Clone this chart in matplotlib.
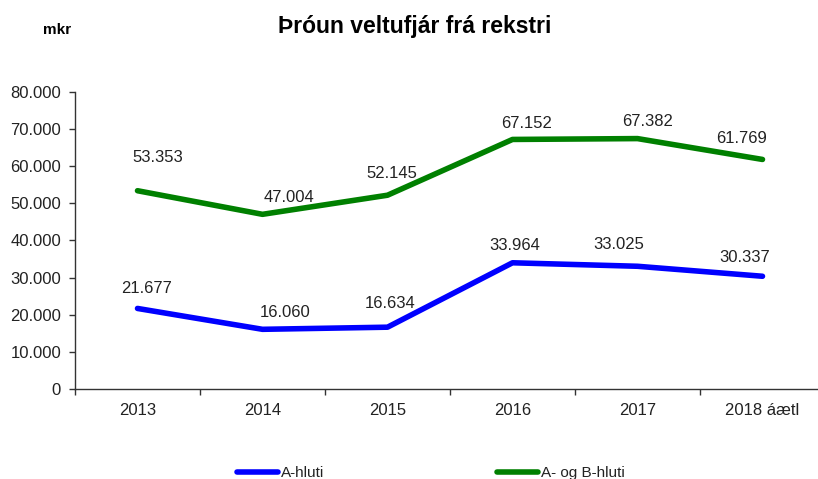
import matplotlib
matplotlib.use("Agg")
import matplotlib.pyplot as plt
from matplotlib.ticker import FixedLocator, FuncFormatter, NullFormatter

plt.rcParams['font.family'] = ['Liberation Sans', 'DejaVu Sans']

years = ["2013", "2014", "2015", "2016", "2017", "2018 áætl"]
a_hluti = [21677, 16060, 16634, 33964, 33025, 30337]
ab_hluti = [53353, 47004, 52145, 67152, 67382, 61769]

# label nudges in pixels (dx, dy) - labels were hand placed in the original
nudge_a = [(9, 20), (23, 17), (3, 24), (2, 17), (-19, 22), (-18, 19)]
nudge_ab = [(20, 33), (26, 17), (4, 22), (14, 16), (10, 17), (-21, 21)]


def fmt_is(v, pos=None):
    return "{:,.0f}".format(v).replace(",", ".")


fig = plt.figure(figsize=(8.18, 4.79), dpi=100)
ax = fig.add_axes([75/818., 1-389/479., 750/818., (389-91.7)/479.])

x = list(range(len(years)))
la, = ax.plot(x, a_hluti, color="#0000FF", lw=4, solid_capstyle="round", label="A-hluti")
lab, = ax.plot(x, ab_hluti, color="#008000", lw=4, solid_capstyle="round", label="A- og B-hluti")

for xi, v, (dx, dy) in zip(x, a_hluti, nudge_a):
    ax.annotate(fmt_is(v), (xi, v), xytext=(dx, dy), textcoords="offset pixels",
                ha="center", va="center", fontsize=12, color="#222222")
for xi, v, (dx, dy) in zip(x, ab_hluti, nudge_ab):
    ax.annotate(fmt_is(v), (xi, v), xytext=(dx, dy), textcoords="offset pixels",
                ha="center", va="center", fontsize=12, color="#222222")

ax.set_xlim(-0.5, len(years)-0.5)
ax.set_ylim(0, 80000)
ax.set_yticks(range(0, 80001, 10000))
ax.yaxis.set_major_formatter(FuncFormatter(fmt_is))

# ticks sit between categories, labels in the middle
ax.xaxis.set_major_locator(FixedLocator([i-0.5 for i in range(len(years)+1)]))
ax.xaxis.set_major_formatter(NullFormatter())
ax.xaxis.set_minor_locator(FixedLocator(x))
ax.set_xticklabels(years, minor=True)
ax.tick_params(axis="x", which="minor", length=0, pad=10, labelsize=12, labelcolor="#222222")
ax.tick_params(axis="x", which="major", length=4, width=1, color="#333333")
ax.tick_params(axis="y", length=4, width=1, pad=6, labelsize=12, labelcolor="#222222", color="#333333")

for s in ["top", "right"]:
    ax.spines[s].set_visible(False)
for s in ["left", "bottom"]:
    ax.spines[s].set_color("#333333")
    ax.spines[s].set_linewidth(1)

fig.text(415/818., 1-27/479., "Þróun veltufjár frá rekstri", ha="center", va="center",
         fontsize=16.5, fontweight="bold")
fig.text(57/818., 1-30/479., "mkr", ha="center", va="center", fontsize=11, fontweight="bold")

fig.legend(handles=[la, lab], loc="center", bbox_to_anchor=(431/818., 1-473/479.),
           ncol=2, frameon=False, fontsize=11, handlelength=2.7, handletextpad=0.2,
           columnspacing=11.3, borderpad=0, labelcolor="#222222")

plt.savefig("out.png", dpi=100)
